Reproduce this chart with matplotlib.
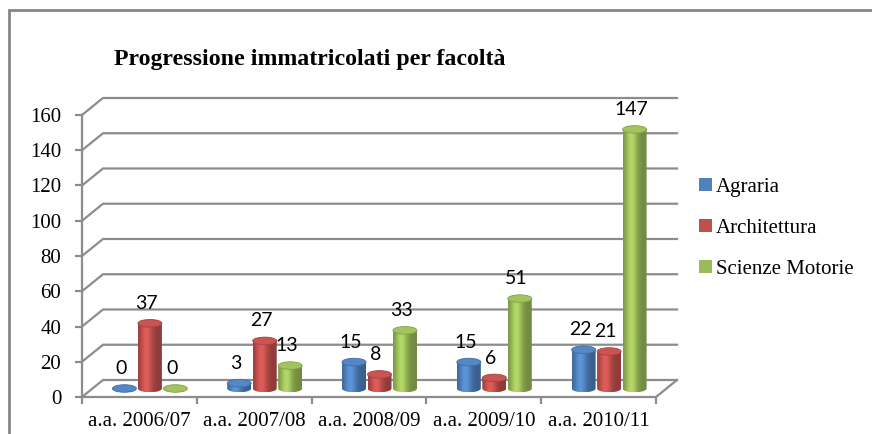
import numpy as np
import matplotlib
matplotlib.use("Agg")
from matplotlib import pyplot as plt
from matplotlib.patches import Ellipse, Patch, Rectangle
from matplotlib.path import Path
from matplotlib.colors import to_rgb

years = ['a.a. 2006/07', 'a.a. 2007/08', 'a.a. 2008/09', 'a.a. 2009/10', 'a.a. 2010/11']
faculties = ['Agraria', 'Architettura', 'Scienze Motorie']
agraria = [0, 3, 15, 15, 22]
architettura = [37, 27, 8, 6, 21]
scienze_motorie = [0, 13, 33, 51, 147]
colors = ['#4F81BD', '#C0504D', '#9BBB59']

series = [agraria, architettura, scienze_motorie]

fig = plt.figure(figsize=(8.72, 4.34), dpi=100)
ax = fig.add_axes([82 / 872, 37 / 434, 574 / 872, 282 / 434])
ax.set_xlim(0, 5)
ax.set_ylim(0, 160)

# outer chart frame
fig.patches.append(Rectangle((9 / 872, -0.05), 1.5, 1 - 10 / 434 + 0.05, fill=False,
                             edgecolor='#868686', lw=2, transform=fig.transFigure))

# pseudo 3D depth (in data units)
dx, dy = 0.183, 9.65
grid_c = '#8c8c8c'
for v in range(0, 161, 20):
    ax.plot([0, dx, 5 + dx], [v, v + dy, v + dy], color=grid_c, lw=1.6,
            clip_on=False, zorder=1, solid_joinstyle='miter')
ax.plot([5, 5 + dx], [0, dy], color=grid_c, lw=1.6, clip_on=False, zorder=1)

# axes styling
for s in ['top', 'right']:
    ax.spines[s].set_visible(False)
for s in ['left', 'bottom']:
    ax.spines[s].set_color(grid_c)
    ax.spines[s].set_linewidth(1.6)
ax.set_yticks(range(0, 161, 20))
ax.set_yticklabels([str(v) for v in range(0, 161, 20)], fontsize=15,
                   family='Liberation Serif')
ax.set_xticks(range(6))
ax.set_xticklabels([])
ax.set_xticks(np.arange(5) + 0.5, minor=True)
ax.set_xticklabels(years, minor=True, fontsize=15, family='Liberation Serif')
ax.tick_params(axis='both', which='major', color=grid_c, width=1.6, length=5)
ax.tick_params(axis='x', which='minor', length=0, pad=11)
ax.tick_params(axis='y', pad=10)

# cylinders
w = 0.209
step = 0.222
base = dy / 2
eh = 4.3
t = np.linspace(0, 1, 64)
shade = 0.74 + 0.42 * np.exp(-((t - 0.35) / 0.26) ** 2)
theta = np.linspace(np.pi, 2 * np.pi, 40)

for j, (vals, col) in enumerate(zip(series, colors)):
    rgb = np.array(to_rgb(col))
    grad = np.clip(rgb[None, :] * shade[:, None], 0, 1)[None, :, :]
    top_c = np.clip(rgb * 1.05, 0, 1)
    for i, v in enumerate(vals):
        cx = i + 0.5 + dx / 2 + (j - 1) * step
        top = base + v
        x0, x1 = cx - w / 2, cx + w / 2
        # body outline: left side, lower elliptic arc, right side
        arc_x = cx + (w / 2) * np.cos(theta)
        arc_y = base + (eh / 2) * np.sin(theta)
        verts = [(x0, top)] + list(zip(arc_x, arc_y)) + [(x1, top), (x0, top)]
        codes = [Path.MOVETO] + [Path.LINETO] * (len(verts) - 2) + [Path.CLOSEPOLY]
        body = Path(verts, codes)
        im = ax.imshow(grad, extent=[x0, x1, base - eh / 2, top], aspect='auto',
                       interpolation='bicubic', zorder=2 + i * 0.1, clip_on=True)
        im.set_clip_path(body, transform=ax.transData)
        ax.add_patch(Ellipse((cx, top), w, eh, facecolor=top_c,
                             edgecolor=np.clip(rgb * 0.85, 0, 1), lw=0.6,
                             zorder=2.05 + i * 0.1))
        ax.text(cx - 0.03, top + 11.3, str(v), ha='center', va='center',
                fontsize=14, family='Lato', zorder=5, clip_on=False)

ax.set_xlim(0, 5)
ax.set_ylim(0, 160)

fig.text(310 / 872, 1 - 59 / 434, 'Progressione immatricolati per facoltà',
         ha='center', va='center', fontsize=17.2, fontweight='bold',
         family='Liberation Serif')

handles = [Patch(facecolor=c, edgecolor='none') for c in colors]
fig.legend(handles, faculties, loc='upper left', bbox_to_anchor=(699 / 872, 1 - 178 / 434),
           frameon=False, prop={'family': 'Liberation Serif', 'size': 15},
           handlelength=0.6, handleheight=0.6, handletextpad=0.2, labelspacing=1.05,
           borderaxespad=0, borderpad=0)

fig.savefig('out.png', dpi=100)
